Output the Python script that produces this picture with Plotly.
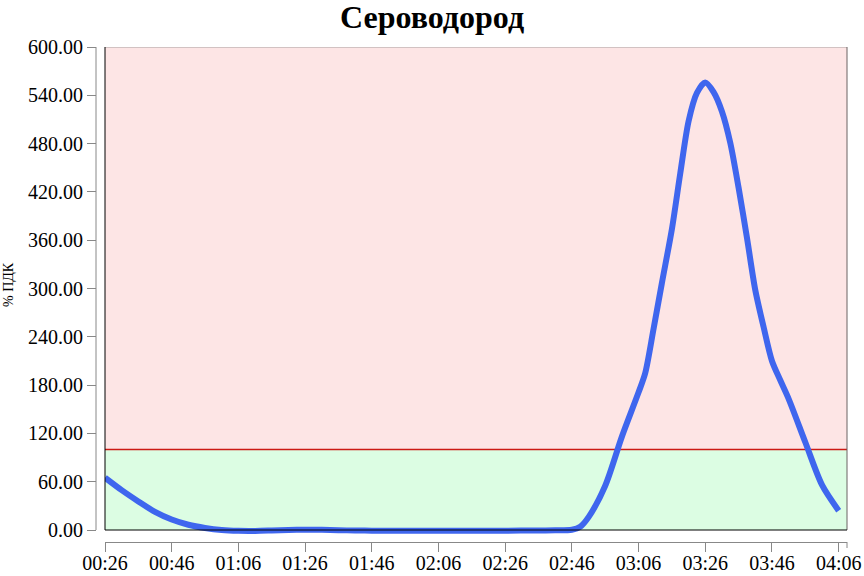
import plotly.graph_objects as go

# ---- data ----
times = [
    "00:26", "00:31", "00:36", "00:41", "00:46", "00:51", "00:56", "01:01", "01:06",
    "01:11", "01:16", "01:21", "01:26", "01:31", "01:36", "01:41", "01:46", "01:56",
    "02:06", "02:16", "02:26", "02:36", "02:41", "02:46", "02:48:30", "02:51",
    "02:56", "03:01", "03:06", "03:08", "03:10:30", "03:13", "03:16", "03:18:30",
    "03:21", "03:23:30", "03:26", "03:28:30", "03:31", "03:33:30", "03:36",
    "03:38:30", "03:41", "03:43:30", "03:46", "03:48:30", "03:51", "03:56",
    "04:01", "04:06",
]
values = [
    65.0, 49.5, 35.5, 22.5, 13.0, 6.5, 2.5, 0.0, -1.0,
    -1.1, -0.6, 0.0, 0.3, 0.2, -0.3, -0.6, -0.8, -0.8,
    -0.8, -0.8, -0.8, -0.7, -0.4, 0.3, 4.0, 16.0,
    55.0, 116.0, 171.0, 195.0, 250.0, 307.0, 374.0, 443.0,
    508.0, 543.0, 556.0, 544.0, 520.0, 481.0, 425.0,
    363.0, 298.0, 252.0, 210.0, 186.0, 163.0, 109.0,
    56.0, 24.0,
]
y_ticks = [0, 60, 120, 180, 240, 300, 360, 420, 480, 540, 600]
y_tick_labels = [f"{v:.2f}" for v in y_ticks]
threshold = 100
y_max = 600
x_start, x_end = "00:26:00", "04:08:30"
title_text = "Сероводород"
y_title = "% ПДК"

day = "2024-01-01 "
xs = [day + (t if t.count(":") == 2 else t + ":00") for t in times]

W, H = 864, 576
ml, mr, mt, mb = 96, 17, 47, 34
plot_left, plot_bottom = 105, 530
pw, ph = W - ml - mr, H - mt - mb
xdom0 = (plot_left - ml) / pw
# y range extended below zero so the line is not clipped at 0
y_min = -y_max * ((H - mb) - plot_bottom) / (plot_bottom - mt)

PINK = "#fde5e5"
GREEN = "#dcfde3"

fig = go.Figure()
# threshold line (below the data line, above the zones)
fig.add_trace(go.Scatter(
    x=[day + x_start, day + x_end], y=[threshold, threshold], mode="lines",
    line=dict(color="#cc1a14", width=1.3),
    hoverinfo="skip", showlegend=False,
))
fig.add_trace(go.Scatter(
    x=xs, y=values, mode="lines",
    line=dict(color="#3f66ee", width=6, shape="spline", smoothing=0.8),
    hoverinfo="skip", showlegend=False,
))

shapes = [
    dict(type="rect", xref="x domain", yref="y", x0=0, x1=1, y0=threshold, y1=y_max,
         fillcolor=PINK, line=dict(width=0, color=PINK), layer="below"),
    dict(type="rect", xref="x domain", yref="y", x0=0, x1=1, y0=0, y1=threshold,
         fillcolor=GREEN, line=dict(width=0, color=GREEN), layer="below"),
    dict(type="line", xref="x domain", yref="y", x0=0, x1=1, y0=y_max, y1=y_max,
         line=dict(color="#a8a0a0", width=1)),
    dict(type="line", xref="x domain", yref="y", x0=1, x1=1, y0=0, y1=y_max,
         line=dict(color="#6a6262", width=1)),
    dict(type="line", xref="x domain", yref="y", x0=0, x1=0, y0=0, y1=y_max,
         line=dict(color="#000000", width=1)),
    dict(type="line", xref="x domain", yref="y", x0=0, x1=1, y0=0, y1=0,
         line=dict(color="#000000", width=1)),
    # y axis line (offset left of plot)
    dict(type="line", xref="paper", yref="y", x0=0, x1=0, y0=0, y1=y_max,
         line=dict(color="#888888", width=1)),
    # outer tick at end of x axis
    dict(type="line", xref="x domain", yref="paper", x0=1, x1=1, y0=0, y1=-6 / ph,
         line=dict(color="#888888", width=1)),
]

tick_font = dict(family="Liberation Serif", size=20, color="#000000")

fig.update_layout(
    width=W, height=H,
    margin=dict(l=ml, r=mr, t=mt, b=mb, autoexpand=False),
    paper_bgcolor="white", plot_bgcolor="white",
    shapes=shapes,
    xaxis=dict(
        type="date", domain=[xdom0, 1], anchor="free", position=0, automargin=False,
        range=[day + x_start, day + x_end],
        tick0=day + x_start, dtick=20 * 60 * 1000, tickformat="%H:%M",
        showgrid=False, zeroline=False,
        showline=True, linecolor="#888888", linewidth=1,
        ticks="outside", ticklen=9, tickcolor="#888888", tickwidth=1,
        tickfont=tick_font, ticklabelstandoff=-6,
    ),
    yaxis=dict(
        domain=[0, 1], anchor="free", position=0, automargin=False,
        range=[y_min, y_max],
        tickmode="array", tickvals=y_ticks, ticktext=y_tick_labels,
        showgrid=False, zeroline=False, showline=False,
        ticks="outside", ticklen=9, tickcolor="#888888", tickwidth=1,
        tickfont=tick_font,
    ),
    annotations=[
        dict(text=f"<b>{title_text}</b>", xref="paper", yref="paper",
             x=(432 - ml) / pw, y=((H - mb) - 17) / ph, xanchor="center", yanchor="middle",
             showarrow=False, font=dict(family="Liberation Serif", size=32, color="#000000")),
        dict(text=y_title, xref="paper", yref="paper", textangle=-90,
             x=(8 - ml) / pw, y=((H - mb) - 285) / ph, xanchor="center", yanchor="middle",
             showarrow=False, font=dict(family="Liberation Serif", size=14, color="#000000")),
    ],
)

fig.write_html(
    "out.html",
    config={"displayModeBar": False},
    post_script="document.body.style.margin='0';document.body.style.overflow='hidden';",
)
